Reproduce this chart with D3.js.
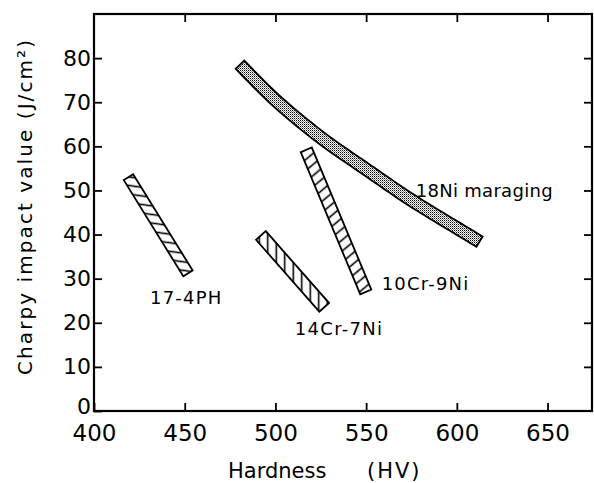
<!DOCTYPE html>
<html>
<head>
<meta charset="utf-8">
<script src="https://cdn.jsdelivr.net/npm/d3@7"></script>
<style>
  html, body { margin: 0; padding: 0; background: #fff; }
  svg { display: block; font-family: "DejaVu Sans", sans-serif; }
</style>
</head>
<body>
<svg id="chart" width="594" height="483"></svg>
<script>
// ---------------- data ----------------
const xTicks = [400, 450, 500, 550, 600, 650];
const yTicks = [0, 10, 20, 30, 40, 50, 60, 70, 80];
const xTitle = ["Hardness", "(HV)"];
const yTitle = "Charpy  impact  value  (J/cm²)";

const bandNames = ["17-4PH", "14Cr-7Ni", "10Cr-9Ni", "18Ni maraging"];
// centre lines of the bands: [hardness HV, impact J/cm2]
const band174PH = [[419.0, 53.0], [451.8, 31.2]];
const band14Cr  = [[492.0, 39.8], [526.9, 23.5]];
const band10Cr  = [[517.0, 59.2], [549.8, 27.0]];
const band18Ni  = [[480.5, 78.5], [500, 70.5], [525, 62.0], [550, 54.8], [575, 47.8], [600, 41.5], [612.5, 38.4]];
// label anchors (data units)
const labelAt = [[430.9, 24.3], [510.7, 17.2], [558.6, 27.4], [577.3, 48.5]];

// ---------------- layout ----------------
const svg = d3.select("#chart");
const L = 94, R = 592, T = 14, B = 411;
const x = d3.scaleLinear().domain([400, 674.5]).range([L, R]);
const y = d3.scaleLinear().domain([0, 90]).range([B, T]);

// patterns
const defs = svg.append("defs");
function hatch(id, spacing, angle) {
  const p = defs.append("pattern").attr("id", id)
    .attr("patternUnits", "userSpaceOnUse")
    .attr("width", spacing).attr("height", spacing)
    .attr("patternTransform", `rotate(${angle})`);
  p.append("rect").attr("width", spacing).attr("height", spacing).attr("fill", "#fff");
  p.append("line").attr("x1", 0).attr("x2", spacing).attr("y1", spacing / 2).attr("y2", spacing / 2)
    .attr("stroke", "#000").attr("stroke-width", 1.6);
}
hatch("h174", 8.5, 8);
hatch("h14", 8.5, 90);
hatch("h10", 8.5, -40);
const dots = defs.append("pattern").attr("id", "dots")
  .attr("patternUnits", "userSpaceOnUse").attr("width", 2).attr("height", 2);
dots.append("rect").attr("width", 2).attr("height", 2).attr("fill", "#fff");
dots.append("rect").attr("width", 1).attr("height", 1).attr("fill", "#000");
dots.append("rect").attr("x", 1).attr("y", 1).attr("width", 1).attr("height", 1).attr("fill", "#888");

// ---------------- axes ----------------
const fs = 23;
const gx = svg.append("g").attr("transform", `translate(0,${B})`)
  .call(d3.axisBottom(x).tickValues(xTicks).tickSize(-8).tickSizeOuter(0).tickPadding(14));
gx.select(".domain").remove();
gx.selectAll("text").attr("font-size", fs).attr("font-family", "DejaVu Sans").attr("fill", "#000");
gx.selectAll("line").attr("stroke-width", 1.8);

const gxt = svg.append("g").attr("transform", `translate(0,${T})`)
  .call(d3.axisTop(x).tickValues(xTicks.slice(1)).tickSize(-8).tickSizeOuter(0).tickFormat(""));
gxt.select(".domain").remove();
gxt.selectAll("line").attr("stroke-width", 1.8);

const gy = svg.append("g").attr("transform", `translate(${L},0)`)
  .call(d3.axisLeft(y).tickValues(yTicks).tickSize(-8).tickSizeOuter(0).tickPadding(3));
gy.select(".domain").remove();
gy.selectAll("text").attr("font-size", fs - 1).attr("font-family", "DejaVu Sans").attr("fill", "#000");
gy.selectAll(".tick").filter(d => d === 0).select("text").attr("dy", "0.1em");
gy.selectAll("line").attr("stroke-width", 1.8);

const gyr = svg.append("g").attr("transform", `translate(${R},0)`)
  .call(d3.axisRight(y).tickValues(yTicks.slice(1)).tickSize(-8).tickSizeOuter(0).tickFormat(""));
gyr.select(".domain").remove();
gyr.selectAll("line").attr("stroke-width", 1.8);

svg.append("rect").attr("x", L).attr("y", T).attr("width", R - L).attr("height", B - T)
  .attr("fill", "none").attr("stroke", "#000").attr("stroke-width", 2.2);

// titles
svg.append("text").attr("x", 228).attr("y", 478).attr("font-size", 21).text(xTitle[0]);
svg.append("text").attr("x", 367).attr("y", 478).attr("font-size", 21)
  .attr("letter-spacing", 2).text(xTitle[1]);
svg.append("text")
  .attr("transform", `translate(32,${(40 + 375) / 2}) rotate(-90)`)
  .attr("text-anchor", "middle").attr("font-size", 20)
  .attr("textLength", 335).attr("lengthAdjust", "spacing")
  .text(yTitle);

// ---------------- bands ----------------
function strip(pts, w) {
  const up = [], lo = [];
  for (let i = 0; i < pts.length; i++) {
    const a = pts[Math.max(0, i - 1)], b = pts[Math.min(pts.length - 1, i + 1)];
    let dx = b[0] - a[0], dy = b[1] - a[1];
    const len = Math.hypot(dx, dy); dx /= len; dy /= len;
    const nx = -dy, ny = dx;
    up.push([pts[i][0] + nx * w / 2, pts[i][1] + ny * w / 2]);
    lo.push([pts[i][0] - nx * w / 2, pts[i][1] - ny * w / 2]);
  }
  return up.concat(lo.reverse());
}
function px(d) { return [x(d[0]), y(d[1])]; }

function drawStraight(data, w, fill) {
  const poly = strip(data.map(px), w);
  svg.append("path").attr("d", "M" + poly.join("L") + "Z")
    .attr("fill", fill).attr("stroke", "#000").attr("stroke-width", 1.8)
    .attr("stroke-linejoin", "miter");
}
drawStraight(band174PH, 11, "url(#h174)");
drawStraight(band14Cr, 13, "url(#h14)");
drawStraight(band10Cr, 12, "url(#h10)");

const centre = d3.line().x(d => x(d[0])).y(d => y(d[1])).curve(d3.curveCatmullRom.alpha(0.5));
const tmp = svg.append("path").attr("d", centre(band18Ni)).attr("fill", "none").attr("stroke", "none");
const node = tmp.node(), total = node.getTotalLength();
const samples = d3.range(0, 61).map(i => { const p = node.getPointAtLength(total * i / 60); return [p.x, p.y]; });
tmp.remove();
const poly18 = strip(samples, 12);
svg.append("path").attr("d", "M" + poly18.join("L") + "Z")
  .attr("fill", "url(#dots)").attr("stroke", "#000").attr("stroke-width", 1.8);

// labels
const labelSpacing = [1.2, 1.3, 1.2, 0.3];
bandNames.forEach((n, i) => {
  svg.append("text").attr("x", x(labelAt[i][0])).attr("y", y(labelAt[i][1]))
    .attr("font-size", 18).attr("letter-spacing", labelSpacing[i]).text(n);
});
</script>
</body>
</html>
